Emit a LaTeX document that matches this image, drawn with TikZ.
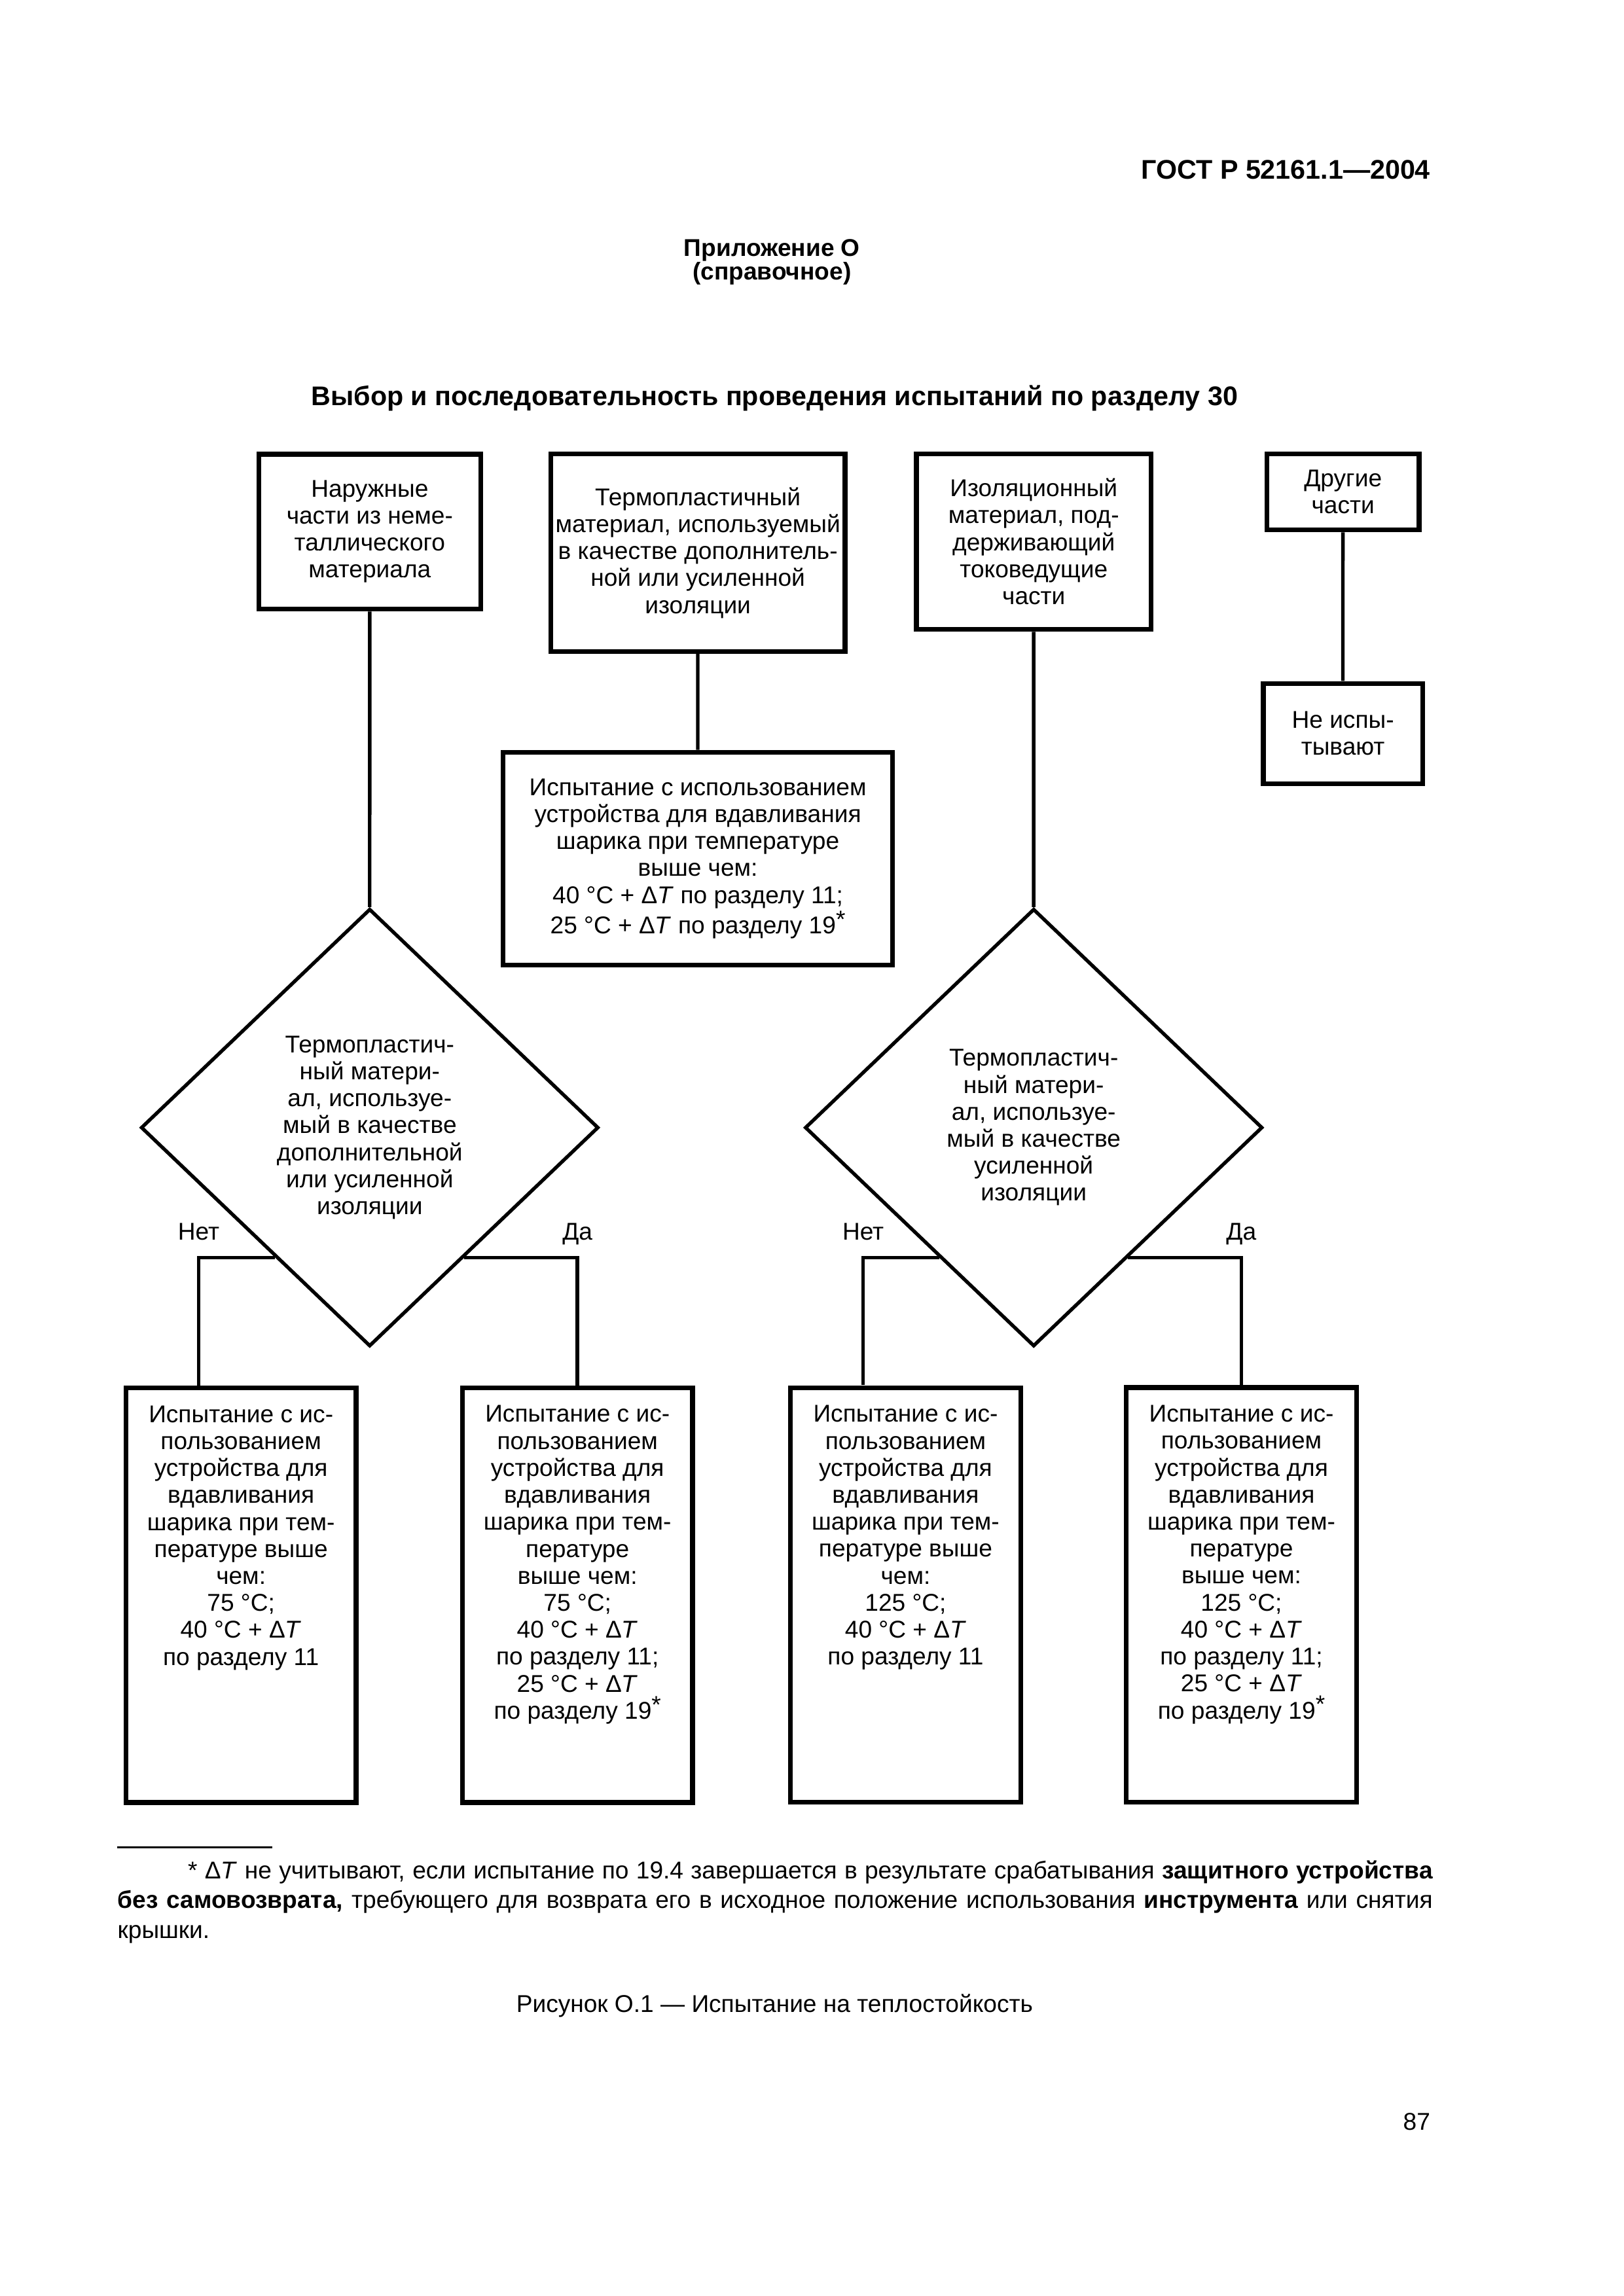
\documentclass[tikz,border=0pt]{standalone}
\usepackage{fontspec}
\setmainfont{Liberation Sans}
\usetikzlibrary{shapes.geometric, calc}

\newcommand{\dT}{Δ\textit{T}}
\newcommand{\fnstar}{\raisebox{0.25em}{*}}
\newcommand{\testtext}[1]{\parbox[c][5.4cm][t]{2.9cm}{\centering\vspace*{0.23cm}#1}}

\begin{document}
\begin{tikzpicture}
  [scale=0.993, every node/.style={transform shape},
   font=\fontsize{9}{10}\selectfont,
   box/.style={draw, line width=1.8pt, inner sep=0pt, align=center},
   decision/.style={diamond, draw, line width=1.3pt, inner sep=0pt, align=center,
     minimum width=5.96cm, minimum height=5.7cm},
   testbox/.style={draw, line width=1.8pt, inner sep=0pt,
     minimum width=3cm, minimum height=5.4cm},
   link/.style={line width=1.3pt},
   plain/.style={inner sep=0pt},
   head/.style={inner sep=0pt, font=\bfseries\fontsize{10}{12}\selectfont}]

%%% page
\fill [white] (0,0) rectangle (21.148,-29.909);
\useasboundingbox (0,0) rectangle (21.148,-29.909);

% headings
\node [head, anchor=base east] (gost) at (18.636,-2.33) {ГОСТ Р 52161.1—2004};
\node [head, anchor=base, font=\bfseries\fontsize{9}{10}\selectfont] (app) at (10.055,-3.34) {Приложение О};
\node [head, anchor=base, font=\bfseries\fontsize{9}{10}\selectfont] (ref) at (10.055,-3.645) {(справочное)};
\node [head, anchor=base] (title) at (10.089,-5.28) {Выбор и последовательность проведения испытаний по разделу 30};

%%% nodes

% top row
\node [box, minimum width=2.89cm, minimum height=2.02cm] (ext) at (4.816,-6.925)
  {Наружные\\части из неме-\\таллического\\материала};
\node [box, minimum width=3.83cm, minimum height=2.575cm] (thp) at (9.09,-7.2)
  {Термопластичный\\материал, используемый\\в качестве дополнитель-\\ной или усиленной\\изоляции};
\node [box, minimum width=3.06cm, minimum height=2.287cm] (ins) at (13.465,-7.056)
  {Изоляционный\\материал, под-\\держивающий\\токоведущие\\части};
\node [box, minimum width=1.98cm, minimum height=0.99cm] (oth) at (17.493,-6.408)
  {Другие\\части};

% second row
\node [box, minimum width=2.075cm, minimum height=1.305cm, below of=oth, node distance=3.148cm] (nt)
  {Не испы-\\тывают};
\node [box, minimum width=5.074cm, minimum height=2.77cm, below of=thp, node distance=3.986cm] (bp)
  {Испытание с использованием\\устройства для вдавливания\\шарика при температуре\\выше чем:\\40 °C + \dT{} по разделу 11;\\25 °C + \dT{} по разделу 19\fnstar};

% questions
\node [decision, below of=ext, node distance=7.764cm] (q1)
  {Термопластич-\\ный матери-\\ал, используе-\\мый в качестве\\дополнительной\\или усиленной\\изоляции};
\node [decision, below of=ins, node distance=7.633cm] (q2)
  {Термопластич-\\ный матери-\\ал, используе-\\мый в качестве\\усиленной\\изоляции};

% tests
\node [testbox] (t1) at (3.139,-20.78)
  {\testtext{Испытание с ис-\\пользованием\\устройства для\\вдавливания\\шарика при тем-\\пературе выше\\чем:\\75 °C;\\40 °C + \dT\\по разделу 11}};
\node [testbox, right of=t1, node distance=4.383cm] (t2)
  {\testtext{Испытание с ис-\\пользованием\\устройства для\\вдавливания\\шарика при тем-\\пературе\\выше чем:\\75 °C;\\40 °C + \dT\\по разделу 11;\\25 °C + \dT\\по разделу 19\fnstar}};
\node [testbox, right of=t2, node distance=4.274cm] (t3)
  {\testtext{Испытание с ис-\\пользованием\\устройства для\\вдавливания\\шарика при тем-\\пературе выше\\чем:\\125 °C;\\40 °C + \dT\\по разделу 11}};
\node [testbox, right of=t3, node distance=4.375cm] (t4)
  {\testtext{Испытание с ис-\\пользованием\\устройства для\\вдавливания\\шарика при тем-\\пературе\\выше чем:\\125 °C;\\40 °C + \dT\\по разделу 11;\\25 °C + \dT\\по разделу 19\fnstar}};

%%% edges
\draw [link] (ext) to (q1);
\draw [link] (thp) to (bp);
\draw [link] (ins) to (q2);
\draw [link] (oth) to (nt);

% no / yes
\coordinate (q1no) at ($(q1.west)!0.59!(q1.south)$);
\coordinate (q1yes) at ($(q1.east)!0.59!(q1.south)$);
\coordinate (q2no) at ($(q2.west)!0.59!(q2.south)$);
\coordinate (q2yes) at ($(q2.east)!0.59!(q2.south)$);
\coordinate (t1in) at ($(t1.north west)!0.32!(t1.north east)$);
\coordinate (t3in) at ($(t3.north west)!0.32!(t3.north east)$);

\draw [link] (q1no) -| node [plain, pos=0.5, anchor=base, yshift=2.3mm] (no1) {Нет} (t1in);
\draw [link] (q1yes) -| node [plain, pos=0.5, anchor=base, yshift=2.3mm] (yes1) {Да} (t2);
\draw [link] (q2no) -| node [plain, pos=0.5, anchor=base, yshift=2.3mm] (no2) {Нет} (t3in);
\draw [link] (q2yes) -| node [plain, pos=0.5, anchor=base, yshift=2.3mm] (yes2) {Да} (t4);

% footnote
\draw [line width=0.8pt] (1.525,-24.066) -- (3.549,-24.066);
\node [plain, anchor=base west, text width=17.128cm, align=justify,
  font=\fontsize{9}{11.1}\selectfont] (note) at (1.525,-24.47)
  {\hspace*{0.915cm}* \dT{} не учитывают, если испытание по 19.4 завершается в результате срабатывания
   {\bfseries защитного устройства}\linebreak {\bfseries без самовозврата,} требующего для возврата его
   в исходное положение использования {\bfseries инструмента} или снятия\linebreak крышки.};

% caption
\node [plain, anchor=base] (cap) at (10.089,-26.21) {Рисунок О.1 — Испытание на теплостойкость};
\node [plain, anchor=base east] (page) at (18.636,-27.75) {87};

\end{tikzpicture}
\end{document}
